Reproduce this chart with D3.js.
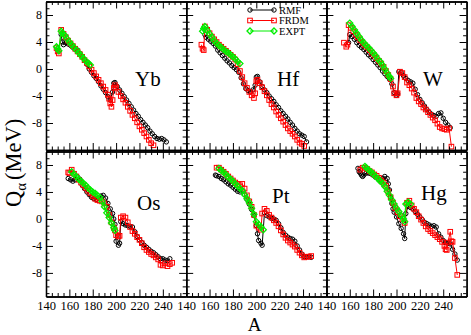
<!DOCTYPE html>
<html><head><meta charset="utf-8">
<script src="https://cdn.jsdelivr.net/npm/d3@7"></script>
<style>
body{margin:0;background:#fff}
svg{display:block}
text{font-family:"Liberation Serif","Times New Roman",serif;fill:#000}
</style>
</head><body>
<svg id="c" width="471" height="335"></svg>
<script>
// ---------- data: [A, Q_alpha (MeV)] ----------
const yb_RMF=[[153,5.1],[154,4.0],[155,3.6],[157,3.9],[159,3.7],[161,3.5],[163,3.2],[165,2.9],[167,2.8],[169,2.3],[171,1.8],[173,1.3],[175,0.7],[177,0.0],[179,-0.5],[181,-1.0],[183,-1.4],[185,-1.9],[187,-2.5],[189,-3.0],[191,-3.5],[193,-4.1],[195,-4.6],[197,-3.4],[198,-2.1],[199,-2.0],[201,-2.6],[203,-3.1],[205,-3.6],[207,-4.1],[209,-4.6],[211,-5.1],[213,-5.6],[215,-6.1],[217,-6.6],[219,-7.0],[221,-7.5],[223,-7.9],[225,-8.3],[227,-8.7],[229,-9.2],[231,-9.6],[233,-10.0],[235,-10.3],[237,-10.4],[239,-10.3],[241,-10.5],[243,-10.8]];
const yb_FRDM=[[149,3.1],[150,2.6],[151,2.3],[153,5.8],[155,5.2],[157,4.7],[159,4.2],[161,3.8],[163,3.4],[165,3.0],[167,2.6],[169,2.2],[171,1.8],[173,1.3],[175,0.9],[177,0.4],[179,-0.1],[181,-0.6],[183,-1.1],[185,-1.6],[187,-2.1],[189,-2.6],[191,-3.1],[193,-3.8],[194,-4.4],[195,-5.1],[196,-5.6],[197,-4.6],[198,-2.8],[199,-2.4],[200,-2.7],[202,-3.4],[204,-4.0],[206,-4.5],[208,-5.0],[210,-5.6],[212,-6.2],[214,-6.8],[216,-7.3],[218,-7.9],[220,-8.5],[222,-9.0],[224,-9.5],[226,-10.0],[228,-10.5],[230,-11.0],[232,-11.3]];
const yb_EXPT=[[149,3.3],[150,3.0],[151,2.7],[153,5.6],[154,5.3],[156,5.0],[158,4.5],[160,4.0],[162,3.6],[164,3.2],[166,2.8],[168,2.4],[170,2.0],[172,1.6],[174,1.2],[176,0.9],[178,0.6]];

const hf_RMF=[[156,5.1],[157,4.7],[159,4.4],[161,4.1],[163,3.8],[165,3.4],[167,2.8],[169,2.4],[171,2.0],[173,1.6],[175,1.2],[177,0.9],[179,0.5],[181,0.2],[183,-0.1],[185,-0.5],[187,-1.3],[189,-2.2],[191,-2.9],[193,-3.2],[195,-3.4],[197,-3.1],[199,-2.4],[200,-1.2],[201,-1.1],[203,-1.9],[205,-2.6],[207,-3.1],[209,-3.5],[211,-4.0],[213,-4.4],[215,-4.8],[217,-5.3],[219,-5.7],[221,-6.2],[223,-6.6],[225,-7.0],[227,-7.4],[229,-7.9],[231,-8.3],[233,-8.8],[235,-9.2],[237,-9.6],[239,-9.8],[241,-10.0],[243,-10.8]];
const hf_FRDM=[[153,3.6],[154,3.0],[155,2.8],[156,6.3],[158,5.8],[160,5.3],[162,4.8],[164,4.4],[166,4.0],[168,3.6],[170,3.3],[172,3.0],[174,2.7],[176,2.4],[178,2.1],[180,1.8],[182,1.4],[184,0.7],[186,-0.3],[188,-1.2],[190,-2.1],[192,-2.8],[194,-3.4],[196,-3.9],[198,-4.3],[199,-3.6],[200,-1.8],[201,-1.6],[203,-2.1],[205,-2.7],[207,-3.3],[209,-3.9],[211,-4.6],[213,-5.2],[215,-5.7],[217,-6.3],[219,-6.8],[221,-7.3],[223,-7.8],[225,-8.3],[227,-8.8],[229,-9.2],[231,-9.6],[233,-10.0],[235,-10.5],[237,-10.9],[239,-11.1],[241,-11.4]];
const hf_EXPT=[[154,5.6],[155,6.0],[156,6.3],[158,5.7],[160,5.2],[162,4.7],[164,4.2],[166,3.8],[168,3.5],[170,3.2],[172,2.9],[174,2.6],[176,2.4],[178,2.1],[180,1.8],[182,1.5],[184,1.1],[186,0.8]];

const w_RMF=[[159,3.9],[160,5.1],[162,4.8],[164,4.4],[166,3.9],[168,3.5],[170,3.2],[172,2.9],[174,2.5],[176,2.1],[178,1.8],[180,1.4],[182,1.0],[184,0.6],[186,0.2],[188,-0.3],[190,-0.7],[192,-1.1],[194,-1.5],[196,-2.2],[198,-3.5],[200,-3.9],[201,-3.7],[202,-0.4],[204,-0.5],[206,-1.0],[208,-1.4],[210,-1.7],[212,-1.9],[214,-2.1],[216,-3.0],[218,-3.8],[220,-4.5],[222,-5.0],[224,-5.5],[226,-6.0],[228,-6.4],[230,-6.7],[232,-6.9],[234,-7.0],[236,-6.6],[238,-6.5],[240,-7.3],[242,-7.9],[244,-8.3],[246,-8.7]];
const w_FRDM=[[155,3.9],[157,3.3],[158,3.6],[159,6.5],[161,6.1],[163,5.6],[165,5.1],[167,4.7],[169,4.3],[171,3.9],[173,3.5],[175,3.2],[177,2.8],[179,2.4],[181,2.0],[183,1.6],[185,1.2],[187,0.8],[189,0.3],[191,-0.3],[193,-0.9],[195,-1.5],[197,-2.6],[198,-3.6],[200,-3.9],[201,-3.6],[203,-0.4],[205,-0.6],[207,-1.2],[209,-2.0],[211,-2.4],[213,-2.9],[215,-3.5],[217,-4.3],[219,-4.8],[221,-5.2],[223,-5.7],[225,-6.0],[227,-6.4],[229,-6.8],[231,-7.2],[233,-7.6],[235,-8.1],[237,-8.6],[239,-8.8],[241,-8.9],[243,-9.0],[245,-8.8],[247,-11.5]];
const w_EXPT=[[160,6.8],[162,6.3],[164,5.8],[166,5.3],[168,4.8],[170,4.3],[172,3.9],[174,3.5],[176,3.2],[178,2.8],[180,2.4],[182,2.0],[184,1.5],[186,1.1],[188,0.6],[190,0.0],[192,-0.6],[194,-1.1],[195,-1.4]];

const os_RMF=[[159,6.0],[161,5.8],[163,5.6],[165,5.8],[167,6.2],[169,5.9],[171,5.0],[173,4.5],[175,4.0],[177,3.6],[179,3.2],[181,3.0],[183,2.9],[185,3.1],[187,3.4],[189,3.5],[191,3.1],[193,2.3],[195,1.5],[197,0.8],[198,0.0],[199,-0.8],[200,-3.3],[202,-3.9],[203,-3.6],[204,-0.4],[206,-0.7],[208,-0.9],[210,-1.0],[212,-1.1],[214,-1.2],[216,-1.9],[218,-2.6],[220,-3.1],[222,-3.5],[224,-3.9],[226,-4.2],[228,-4.5],[230,-4.8],[232,-5.0],[234,-5.3],[236,-5.6],[238,-5.9],[240,-5.9],[242,-6.1],[244,-6.2],[246,-5.9]];
const os_FRDM=[[159,6.9],[160,6.8],[162,7.3],[164,6.7],[166,6.3],[168,5.8],[170,5.4],[172,5.0],[174,4.6],[176,4.2],[178,3.8],[180,3.4],[182,3.0],[184,2.8],[186,2.7],[188,2.6],[190,2.3],[192,1.8],[194,0.6],[196,-0.5],[198,-1.3],[199,-1.7],[200,-2.4],[202,-2.6],[203,-2.5],[204,0.2],[206,0.4],[208,0.2],[210,-0.5],[212,-1.2],[214,-1.8],[216,-2.2],[218,-2.7],[220,-3.1],[222,-3.6],[224,-4.2],[226,-4.6],[228,-4.9],[230,-5.2],[232,-5.4],[234,-5.7],[236,-6.0],[238,-6.8],[240,-6.9],[242,-6.6],[244,-7.0],[246,-6.7],[248,-6.5]];
const os_EXPT=[[162,7.0],[164,6.6],[166,6.3],[168,5.9],[170,5.6],[172,5.3],[174,5.0],[176,4.6],[178,4.3],[180,4.0],[182,3.8],[184,3.5],[186,3.2],[188,2.6],[190,1.8],[192,0.9],[194,0.2],[196,-0.6],[198,-1.3],[199,-1.7]];

const pt_RMF=[[165,6.5],[166,6.4],[168,6.3],[170,6.0],[172,5.8],[174,5.5],[176,5.2],[178,5.0],[180,4.7],[182,4.4],[184,4.1],[186,4.0],[188,4.2],[190,3.6],[192,2.9],[194,2.2],[196,1.4],[198,0.5],[200,-1.0],[201,-2.2],[202,-3.2],[204,-3.6],[205,-3.9],[207,0.9],[209,0.5],[211,0.3],[213,0.1],[215,0.0],[217,-0.2],[219,-0.7],[221,-1.3],[223,-2.0],[225,-2.4],[227,-2.7],[229,-2.9],[231,-3.0],[233,-3.3],[235,-4.0],[237,-4.6],[239,-5.2],[241,-5.6],[243,-5.6],[245,-5.6],[247,-5.7]];
const pt_FRDM=[[166,7.6],[168,7.6],[170,7.3],[172,7.0],[174,6.7],[176,6.3],[178,6.0],[180,5.7],[182,5.4],[184,5.2],[186,5.0],[188,5.2],[190,4.5],[192,3.5],[194,2.6],[196,1.8],[198,0.6],[200,-1.0],[202,-1.3],[204,-1.6],[205,0.8],[207,1.5],[209,1.2],[211,0.6],[213,0.2],[215,-0.2],[217,-0.6],[219,-1.1],[221,-1.7],[223,-2.3],[225,-2.8],[227,-3.2],[229,-3.5],[231,-3.8],[233,-4.1],[235,-4.6],[237,-5.0],[239,-5.4],[241,-5.7],[243,-5.6],[245,-5.6],[247,-5.5]];
const pt_EXPT=[[168,7.5],[170,7.2],[172,6.9],[174,6.6],[176,6.2],[178,5.9],[180,5.6],[182,5.2],[184,4.9],[186,4.5],[188,4.2],[190,3.6],[192,3.0],[194,2.4],[196,1.6],[198,0.7],[200,-0.4],[202,-0.8],[204,-1.2],[206,-1.6]];

const hg_RMF=[[167,7.5],[168,7.0],[169,6.8],[170,6.5],[171,6.3],[172,6.5],[174,6.8],[176,6.8],[178,6.7],[180,6.5],[182,6.2],[184,6.0],[186,5.8],[188,6.0],[190,6.3],[192,6.0],[193,5.2],[194,4.3],[195,3.2],[196,2.3],[197,1.5],[198,1.0],[200,0.3],[202,-0.7],[204,-1.4],[206,-2.2],[207,-2.9],[208,0.8],[210,1.9],[212,1.7],[214,1.5],[216,1.1],[218,0.7],[220,0.3],[222,-0.1],[224,-0.5],[226,-0.7],[228,-0.9],[230,-1.1],[232,-1.0],[234,-1.2],[236,-2.2],[238,-2.7],[240,-3.2],[242,-3.5],[244,-3.6],[246,-3.7],[248,-4.5],[250,-5.2],[252,-6.1]];
const hg_FRDM=[[169,7.3],[171,7.6],[173,7.6],[175,7.4],[177,7.1],[179,6.9],[181,6.6],[183,6.4],[185,6.1],[187,5.7],[189,5.4],[191,4.9],[193,4.0],[195,3.2],[197,2.4],[199,1.6],[201,1.0],[203,0.4],[205,0.0],[207,-0.6],[209,2.4],[211,2.7],[213,2.0],[215,1.5],[217,1.0],[219,0.4],[221,-0.1],[223,-0.6],[225,-1.1],[227,-1.5],[229,-1.8],[231,-2.1],[233,-2.4],[235,-2.7],[237,-3.0],[239,-3.4],[241,-4.0],[242,-4.5],[243,-4.6],[244,-3.5],[246,-1.9],[247,-3.3],[248,-3.4],[250,-5.8],[252,-8.3]];
const hg_EXPT=[[173,7.8],[174,7.6],[176,7.3],[178,7.0],[180,6.7],[182,6.3],[184,6.0],[186,5.6],[188,5.3],[190,4.8],[192,4.1],[194,3.5],[196,2.8],[198,2.2],[200,1.6],[202,1.1],[204,0.5],[206,0.0],[207,-0.4],[208,2.2],[210,2.5],[212,2.2]];

const elements=["Yb","Hf","W","Os","Pt","Hg"];
const seriesNames=["RMF","FRDM","EXPT"];
const xMajorTicks=[140,160,180,200,220,240,260];
const xTickLabels=[140,160,180,200,220,240];
const yMajorTicks=[-8,-4,0,4,8];
const yTickLabels=[8,4,0,-4,-8];

// ---------- layout ----------
const svg=d3.select("#c");
const L=46, PW=140.2;
const rows=[{top:1.5,bottom:150,dom:[-12,10]},{top:151.5,bottom:296.5,dom:[-11.5,10]}];
const colors={RMF:"#000",FRDM:"#ff0000",EXPT:"#00ee00"};
const panels=[
 {name:"Yb",d:[yb_RMF,yb_FRDM,yb_EXPT],lx:135,ly:86},
 {name:"Hf",d:[hf_RMF,hf_FRDM,hf_EXPT],lx:277,ly:86},
 {name:"W", d:[w_RMF,w_FRDM,w_EXPT],lx:423,ly:86},
 {name:"Os",d:[os_RMF,os_FRDM,os_EXPT],lx:137,ly:210},
 {name:"Pt",d:[pt_RMF,pt_FRDM,pt_EXPT],lx:272,ly:203},
 {name:"Hg",d:[hg_RMF,hg_FRDM,hg_EXPT],lx:421,ly:200}
];

function marker(g,type,px,py){
  if(type==="RMF"){
    g.append("circle").attr("cx",px).attr("cy",py).attr("r",2.2)
      .attr("fill","none").attr("stroke","#000").attr("stroke-width",1);
  }else if(type==="FRDM"){
    g.append("rect").attr("x",px-2.3).attr("y",py-2.3).attr("width",4.6).attr("height",4.6)
      .attr("fill","none").attr("stroke","#ff0000").attr("stroke-width",1);
  }else{
    g.append("path").attr("d",`M${px},${py-3}L${px+3},${py}L${px},${py+3}L${px-3},${py}Z`)
      .attr("fill","none").attr("stroke","#00ee00").attr("stroke-width",1.3);
  }
}

const range=(a,b,s)=>d3.range(a,b+1e-9,s);

panels.forEach((p,i)=>{
  const r=Math.floor(i/3), c=i%3;
  const R=rows[r];
  const x0=L+c*PW, x1=x0+PW;
  const x=d3.scaleLinear().domain([140,260]).range([x0,x1]);
  const y=d3.scaleLinear().domain(R.dom).range([R.bottom,R.top]);
  const g=svg.append("g");

  const line=d3.line().x(d=>x(d[0])).y(d=>y(d[1]));
  p.d.forEach((data,k)=>{
    const nm=seriesNames[k];
    g.append("path").attr("d",line(data)).attr("fill","none")
      .attr("stroke",colors[nm]).attr("stroke-width",nm==="EXPT"?1.4:1);
    const mg=g.append("g");
    data.forEach(d=>marker(mg,nm,x(d[0]),y(d[1])));
  });

  const xMinor=range(140,260,5).filter(v=>v%20!==0);
  const yMinor=range(Math.ceil(R.dom[0]),Math.floor(R.dom[1]),1).filter(v=>v%4!==0);
  const fmtX=v=>(r===1 && xTickLabels.includes(v))?String(v):"";
  const fmtY=v=>(c===0 && yTickLabels.includes(v))?String(v):"";

  const ax=(gen,tx,ty)=>{
    const a=g.append("g").attr("transform",`translate(${tx},${ty})`).call(gen);
    a.select(".domain").attr("stroke","#000").attr("stroke-width",1.3);
    a.selectAll(".tick line").attr("stroke","#000").attr("stroke-width",1);
    a.selectAll("text").attr("font-family","Liberation Serif, serif").attr("fill","#000");
    return a;
  };
  ax(d3.axisBottom(x).tickValues(xMinor).tickSizeInner(-3.5).tickSizeOuter(0).tickFormat(""),0,R.bottom);
  const bx=ax(d3.axisBottom(x).tickValues(xMajorTicks).tickSizeInner(-7).tickSizeOuter(0).tickPadding(5).tickFormat(fmtX),0,R.bottom);
  bx.selectAll("text").attr("font-size",12.5);
  ax(d3.axisTop(x).tickValues(xMinor).tickSizeInner(-3.5).tickSizeOuter(0).tickFormat(""),0,R.top);
  ax(d3.axisTop(x).tickValues(xMajorTicks).tickSizeInner(-7).tickSizeOuter(0).tickFormat(""),0,R.top);
  ax(d3.axisLeft(y).tickValues(yMinor).tickSizeInner(-3.5).tickSizeOuter(0).tickFormat(""),x0,0);
  const ly=ax(d3.axisLeft(y).tickValues(yMajorTicks).tickSizeInner(-7).tickSizeOuter(0).tickPadding(4).tickFormat(fmtY),x0,0);
  ly.selectAll("text").attr("font-size",12);
  ax(d3.axisRight(y).tickValues(yMinor).tickSizeInner(-3.5).tickSizeOuter(0).tickFormat(""),x1,0);
  ax(d3.axisRight(y).tickValues(yMajorTicks).tickSizeInner(-7).tickSizeOuter(0).tickFormat(""),x1,0);

  g.append("text").attr("x",p.lx).attr("y",p.ly).attr("font-size",21).text(p.name);

  if(p.name==="Hf"){
    const lg=g.append("g");
    seriesNames.forEach((nm,k)=>{
      const yy=10+k*10.5;
      lg.append("line").attr("x1",250).attr("x2",274).attr("y1",yy).attr("y2",yy)
        .attr("stroke",colors[nm]).attr("stroke-width",1);
      marker(lg,nm,250,yy); marker(lg,nm,274,yy);
      lg.append("text").attr("x",279).attr("y",yy+3.6).attr("font-size",10.5).text(nm);
    });
  }
});

svg.append("text").attr("x",254.5).attr("y",330.5).attr("text-anchor","middle")
  .attr("font-size",19).text("A");
const yt=svg.append("text").attr("transform","translate(21,207) rotate(-90)").attr("font-size",22.5);
yt.append("tspan").text("Q");
yt.append("tspan").attr("dy",5).attr("font-size",15).text("α");
yt.append("tspan").attr("dy",-5).attr("dx",3).text("(MeV)");
</script>
</body></html>
